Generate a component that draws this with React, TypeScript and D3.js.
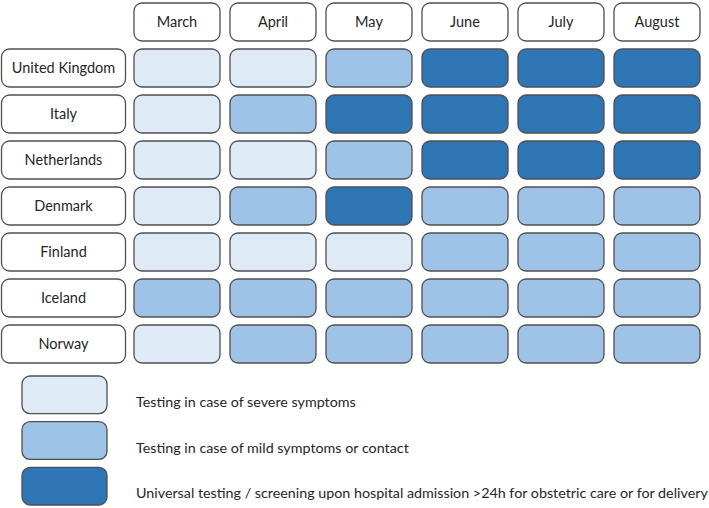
import React from "react";
import * as d3 from "d3";

const months = ["March", "April", "May", "June", "July", "August"];
const countries = ["United Kingdom", "Italy", "Netherlands", "Denmark", "Finland", "Iceland", "Norway"];
const levels: number[][] = [
  [1, 1, 2, 3, 3, 3],
  [1, 2, 3, 3, 3, 3],
  [1, 1, 2, 3, 3, 3],
  [1, 2, 3, 2, 2, 2],
  [1, 1, 1, 2, 2, 2],
  [2, 2, 2, 2, 2, 2],
  [1, 2, 2, 2, 2, 2],
];
const legendLabels = [
  "Testing in case of severe symptoms",
  "Testing in case of mild symptoms or contact",
  "Universal testing / screening upon hospital admission >24h for obstetric care or for delivery",
];
const legendLevels = [1, 2, 3];

const W = 709, H = 508;
const FONT = "Lato, 'Open Sans', sans-serif";

export default function App() {
  const x = d3.scaleBand<string>().domain(months).range([134, 700]).paddingInner(10 / 96).paddingOuter(0);
  const y = d3.scaleBand<string>().domain(["__header", ...countries]).range([3, 363]).paddingInner(8 / 46).paddingOuter(0);
  const color = d3.scaleOrdinal<number, string>().domain([1, 2, 3]).range(["#DEEBF7", "#9DC3E6", "#2E75B6"]);
  const ly = d3.scaleBand<number>().domain(legendLevels).range([376, 505]).paddingInner(8 / 45).paddingOuter(0);
  const stroke = "#505050";
  const r = 8;
  return (
    <svg width={W} height={H} style={{ position: "absolute", left: 0, top: 0, background: "#fff" }} fontFamily={FONT}>
      {months.map((m) => (
        <g key={m}>
          <rect x={x(m)} y={y("__header")} width={x.bandwidth()} height={y.bandwidth()} rx={r} fill="#fff" stroke={stroke} strokeWidth={1.3} />
          <text x={x(m)! + x.bandwidth() / 2} y={y("__header")! + y.bandwidth() / 2} dy="0.35em" textAnchor="middle" fontSize={14.5} fill="#262626">{m}</text>
        </g>
      ))}
      {countries.map((c, i) => (
        <g key={c}>
          <rect x={1.5} y={y(c)} width={124} height={y.bandwidth()} rx={r} fill="#fff" stroke={stroke} strokeWidth={1.3} />
          <text x={1.5 + 62} y={y(c)! + y.bandwidth() / 2} dy="0.35em" textAnchor="middle" fontSize={14.5} fill="#262626">{c}</text>
          {months.map((m, j) => (
            <rect key={m} x={x(m)} y={y(c)} width={x.bandwidth()} height={y.bandwidth()} rx={r} fill={color(levels[i][j])} stroke={stroke} strokeWidth={1.3} />
          ))}
        </g>
      ))}
      {legendLevels.map((l, i) => (
        <g key={l}>
          <rect x={22} y={ly(l)} width={85} height={ly.bandwidth()} rx={r} fill={color(l)} stroke={stroke} strokeWidth={1.3} />
          <text x={136} y={ly(l)! + ly.bandwidth() / 2 + 7} dy="0.35em" fontSize={14.3} fill="#262626">{legendLabels[i]}</text>
        </g>
      ))}
    </svg>
  );
}
